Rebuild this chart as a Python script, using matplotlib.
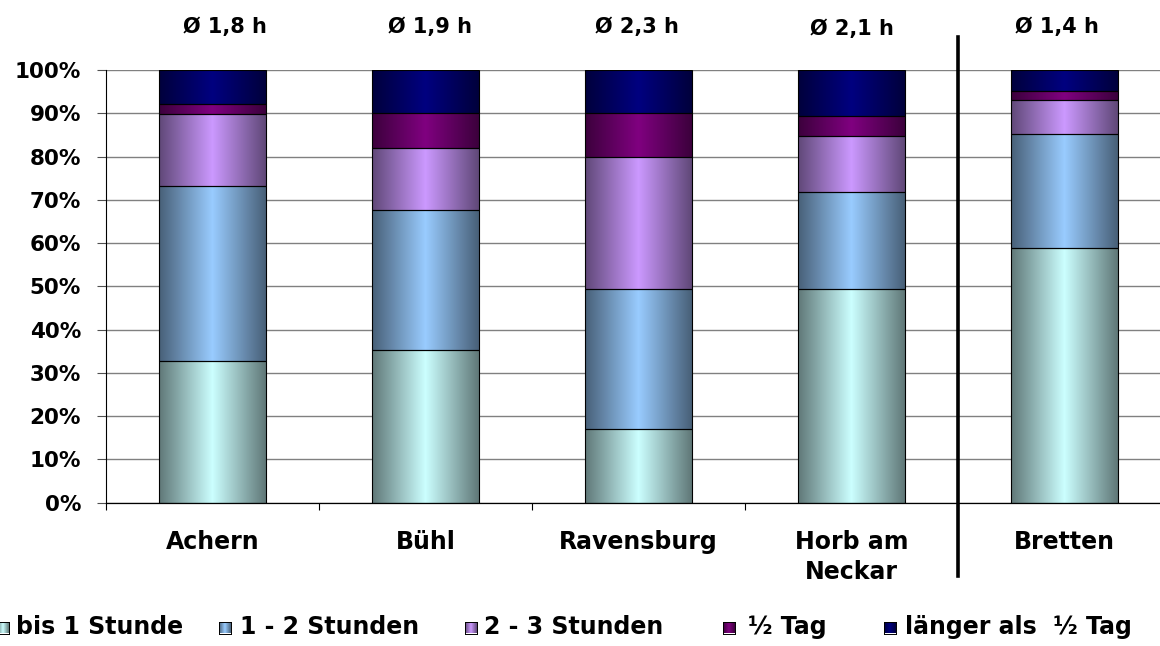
import numpy as np
import matplotlib
matplotlib.use("Agg")
import matplotlib.pyplot as plt
from matplotlib.colors import to_rgb
from matplotlib.ticker import FuncFormatter

# ---- data -------------------------------------------------------------
cities = ["Achern", "Bühl", "Ravensburg", "Horb am\nNeckar", "Bretten"]
avg_hours = [1.8, 1.9, 2.3, 2.1, 1.4]

series_names = ["bis 1 Stunde", "1 - 2 Stunden", "2 - 3 Stunden",
                "½ Tag", "länger als  ½ Tag"]
bis_1h = [32.8, 35.3, 17.0, 49.5, 58.9]
h_1_2 = [40.5, 32.3, 32.5, 22.2, 26.3]
h_2_3 = [16.5, 14.4, 30.3, 13.0, 7.8]
half_day = [2.3, 8.0, 10.2, 4.6, 2.2]
over_half_day = [7.9, 10.0, 10.0, 10.7, 4.8]
series = [bis_1h, h_1_2, h_2_3, half_day, over_half_day]

colors = ["#CCFFFF", "#99CCFF", "#CC99FF", "#800080", "#000080"]

# ---- style ------------------------------------------------------------
plt.rcParams["font.family"] = ["DejaVu Sans"]
plt.rcParams["font.weight"] = "bold"

W, H = 1160, 646
fig = plt.figure(figsize=(W / 100, H / 100), dpi=100)
fig.patch.set_facecolor("white")

ax = fig.add_axes([106 / W, (H - 502.7) / H, 1065 / W, 432.7 / H])


def shaded(color, n=160):
    """Horizontal 'cylinder' shading: dark at both edges, base colour in the middle."""
    t = np.linspace(0.0, 1.0, n)
    f = 1.0 - 0.53 * np.abs(2 * t - 1)
    rgb = np.array(to_rgb(color))
    return (f[:, None] * rgb[None, :])[None, :, :]


x = np.arange(len(cities))
bottom = np.zeros(len(cities))
for vals, col in zip(series, colors):
    vals = np.asarray(vals, dtype=float)
    bars = ax.bar(x, vals, width=0.5, bottom=bottom, facecolor="none",
                  edgecolor="black", linewidth=0.8, zorder=3)
    img = shaded(col)
    for p in bars:
        ax.imshow(img, extent=(p.get_x(), p.get_x() + p.get_width(),
                               p.get_y(), p.get_y() + p.get_height()),
                  aspect="auto", interpolation="bilinear", zorder=2)
    bottom += vals

ax.set_xlim(-0.5, len(cities) - 0.5)
ax.set_ylim(0, 100)

# axes, ticks, grid
ax.set_yticks(np.arange(0, 101, 10))
ax.yaxis.set_major_formatter(FuncFormatter(lambda v, _: f"{v:.0f}%"))
ax.tick_params(axis="y", direction="out", length=6.5, width=0.8,
               color="#505050", pad=11.5, labelsize=15.5)
ax.set_xticks(x)
ax.set_xticklabels(cities)
ax.set_xticks(np.arange(-0.5, len(cities), 1.0), minor=True)
ax.tick_params(axis="x", which="major", length=0, pad=19.5, labelsize=17)
ax.tick_params(axis="x", which="minor", direction="out", length=5, width=0.8,
               color="black")
for lbl in ax.get_xticklabels():
    lbl.set_linespacing(1.32)

ax.yaxis.grid(True, color="#808080", linewidth=1.0)
ax.set_axisbelow(True)
for side in ("top", "right"):
    ax.spines[side].set_visible(False)
ax.spines["left"].set_color("black")
ax.spines["left"].set_linewidth(0.8)
ax.spines["bottom"].set_color("black")
ax.spines["bottom"].set_linewidth(0.9)

# average duration above each bar
avg_nudge = [(9, 26.4), (3.6, 26.4), (-1.4, 26.4), (0, 25.2), (-5.7, 26.4)]
for i, (v, (dx, dy)) in enumerate(zip(avg_hours, avg_nudge)):
    txt = "Ø " + f"{v:.1f}".replace(".", ",") + " h"
    ax.annotate(txt, xy=(i, 100), xytext=(dx, dy), textcoords="offset points",
                ha="center", va="baseline", fontsize=15, fontweight="bold",
                annotation_clip=False)

# separator between the first four towns and Bretten
ax.axvline(3.5, ymin=-0.169, ymax=1.076, color="black", linewidth=2.6,
           clip_on=False, zorder=5)

# ---- legend -------------------------------------------------------------
marker_left = [-3, 219, 465, 723, 884]
text_left = [16, 240, 484, 748, 905]
for name, col, mx, tx in zip(series_names, colors, marker_left, text_left):
    max_ = fig.add_axes([mx / W, 1 - 633.5 / H, 12 / W, 12 / H])
    max_.imshow(shaded(col), aspect="auto", interpolation="bilinear")
    max_.set_xticks([])
    max_.set_yticks([])
    for sp in max_.spines.values():
        sp.set_color("black")
        sp.set_linewidth(0.7)
    fig.text(tx / W, 1 - 634 / H, name, ha="left", va="baseline",
             fontsize=17, fontweight="bold")

fig.savefig("out.png", dpi=100, facecolor="white")
